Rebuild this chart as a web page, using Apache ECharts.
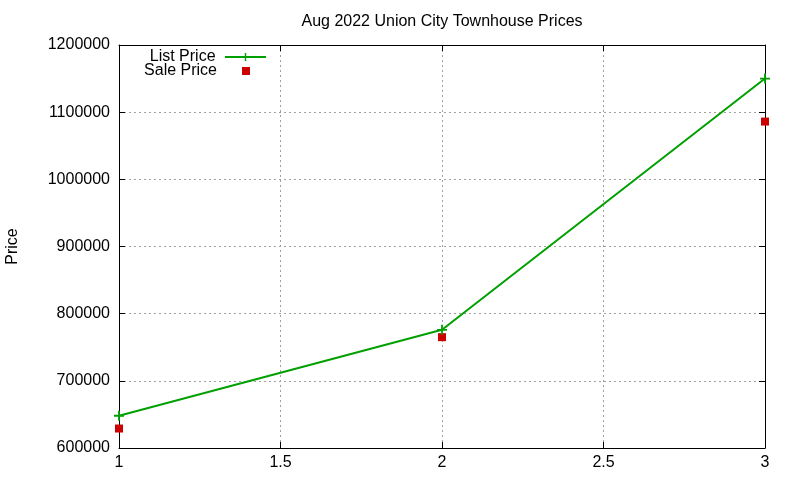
<!DOCTYPE html>
<html>
<head>
<meta charset="utf-8">
<script src="https://cdn.jsdelivr.net/npm/echarts@6/dist/echarts.min.js"></script>
<style>
  html, body { margin: 0; padding: 0; background: #fff; }
  #chart { width: 800px; height: 480px; }
</style>
</head>
<body>
<div id="chart"></div>
<script>
// x = weeks of the month, y = price
var listPts = [1, 2, 3];
var listValues = [648000, 776000, 1150000];
var salePts = [1, 2, 3];
var saleValues = [629000, 765000, 1086000];

var font = "'Liberation Sans', Arial, sans-serif";
var plus = 'path://M0,4.1L4.1,4.1L4.1,0L5.9,0L5.9,4.1L10,4.1L10,5.9L5.9,5.9L5.9,10L4.1,10L4.1,5.9L0,5.9Z';

var listData = listPts.map(function (x, i) { return [x, listValues[i]]; });
var saleData = salePts.map(function (x, i) { return [x, saleValues[i]]; });

var myChart = echarts.init(document.getElementById('chart'));

// 坐标轴公共设置
var axisCommon = {
    axisLine: { show: true, lineStyle: { color: '#000', width: 1 } },
    axisTick: { show: true, inside: true, length: 6, lineStyle: { color: '#000' } },
    splitLine: { show: false }
};

var option = {
    animation: false,
    backgroundColor: '#fff',
    textStyle: { fontFamily: font },
    title: {
        text: 'Aug 2022 Union City Townhouse Prices',
        left: 437,
        textAlign: 'center',
        top: 9,
        textStyle: { fontSize: 16, fontWeight: 'normal', color: '#000', fontFamily: font }
    },
    grid: { left: 119, right: 35, top: 45, bottom: 32, outerBoundsMode: 'none', containLabel: false },
    legend: [
        {
            data: ['List Price'],
            right: 533,
            top: 49,
            padding: 0,
            align: 'right',
            itemWidth: 41,
            itemHeight: 10,
            formatter: '{name} ',
            textStyle: { fontSize: 16, color: '#000', fontFamily: font }
        },
        {
            data: ['Sale Price'],
            right: 550,
            top: 63,
            padding: 0,
            align: 'right',
            itemWidth: 8,
            itemHeight: 8,
            textStyle: { fontSize: 16, color: '#000', fontFamily: font, padding: [0, 20, 0, 0] }
        }
    ],
    xAxis: [
        Object.assign({}, axisCommon, {
            type: 'value',
            min: 1,
            max: 3,
            interval: 0.5,
            position: 'bottom',
            axisLabel: { color: '#000', fontSize: 16, margin: 7, fontFamily: font },
            splitLine: { show: true, lineStyle: { color: '#a0a0a0', type: [2, 3], width: 1 } }
        }),
        Object.assign({}, axisCommon, {
            type: 'value',
            min: 1,
            max: 3,
            interval: 0.5,
            position: 'top',
            axisLabel: { show: false }
        })
    ],
    yAxis: [
        Object.assign({}, axisCommon, {
            type: 'value',
            min: 600000,
            max: 1200000,
            interval: 100000,
            position: 'left',
            name: 'Price',
            nameLocation: 'middle',
            nameGap: 98,
            nameTextStyle: { color: '#000', fontSize: 16, fontFamily: font },
            axisLabel: {
                color: '#000', fontSize: 16, margin: 9, fontFamily: font,
                formatter: function (v) { return String(v); }
            },
            splitLine: { show: true, lineStyle: { color: '#a0a0a0', type: [2, 3], width: 1 } }
        }),
        Object.assign({}, axisCommon, {
            type: 'value',
            min: 600000,
            max: 1200000,
            interval: 100000,
            position: 'right',
            axisLabel: { show: false }
        })
    ],
    series: [
        {
            name: 'Sale Price',
            type: 'scatter',
            data: saleData,
            symbol: 'rect',
            symbolSize: 8,
            itemStyle: { color: '#cc0000', opacity: 1 },
            z: 3
        },
        {
            name: 'List Price',
            type: 'line',
            data: listData,
            symbol: plus,
            symbolSize: 10,
            showSymbol: true,
            lineStyle: { color: '#00a000', width: 2 },
            itemStyle: { color: '#00a000' },
            z: 4
        }
    ]
};

myChart.setOption(option);
</script>
</body>
</html>
